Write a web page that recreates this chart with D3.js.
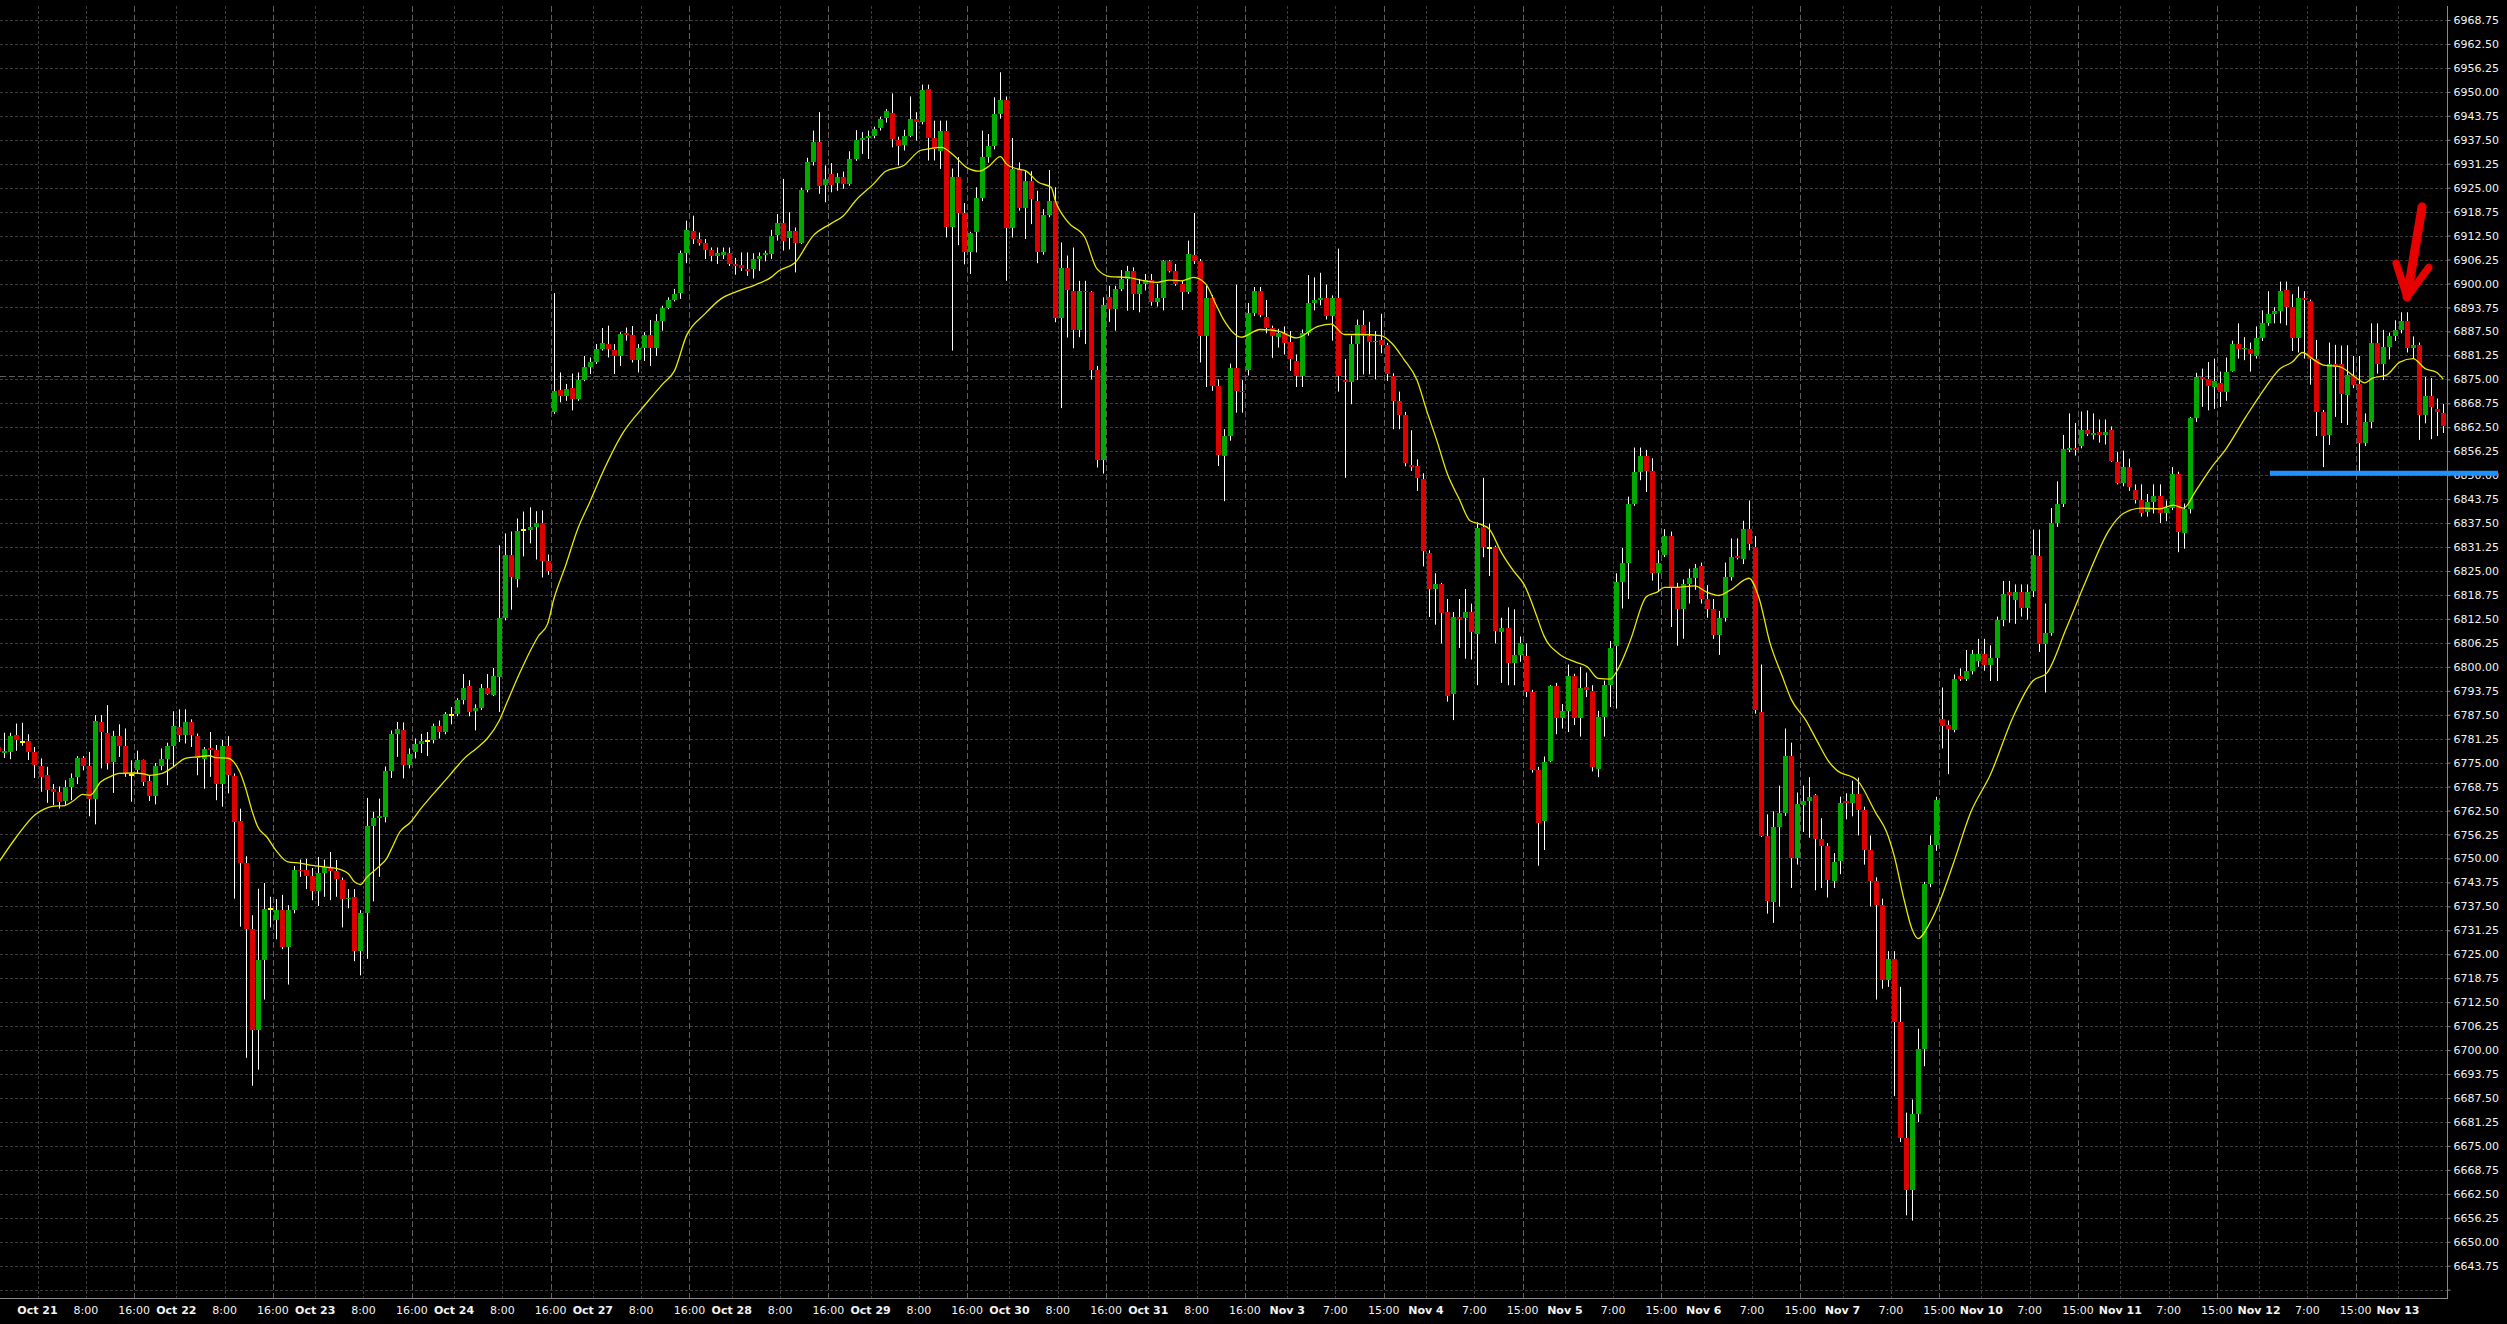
<!DOCTYPE html>
<html><head><meta charset="utf-8">
<script src="https://cdn.jsdelivr.net/npm/d3@7/dist/d3.min.js"></script>
<style>html,body{margin:0;padding:0;background:#000;overflow:hidden}svg{display:block}</style>
</head><body>
<svg id="c" width="2507" height="1324"></svg>
<script>
// ---------- DATA (hourly candles) ----------
const openP = [
6779.2,6777.6,6777.8,6782.1,6780.4,6780.6,6777.8,6774.1,6771.7,6768.0,
6767.4,6765.0,6768.7,6771.3,6776.1,6774.1,6765.4,6785.6,6782.8,6775.2,
6781.9,6779.3,6771.9,6773.2,6775.6,6770.2,6766.2,6774.2,6775.9,6779.4,
6784.3,6782.3,6785.7,6781.9,6775.9,6778.9,6778.3,6769.4,6779.3,6771.5,
6759.7,6748.9,6731.5,6705.3,6723.4,6736.8,6734.0,6736.5,6726.8,6736.5,
6747.0,6747.0,6745.4,6741.5,6746.2,6747.8,6746.8,6744.3,6739.3,6740.0,
6725.8,6735.8,6758.4,6760.6,6760.8,6772.8,6782.4,6783.6,6774.3,6777.9,
6779.8,6780.6,6781.0,6784.5,6783.1,6787.4,6787.6,6791.3,6794.9,6788.4,
6789.2,6794.4,6792.7,6797.4,6812.8,6829.2,6823.0,6835.7,6835.7,6836.6,
6837.6,6827.5,6866.5,6872.2,6870.7,6872.7,6869.8,6874.8,6878.3,6879.4,
6882.9,6884.2,6882.7,6881.0,6887.1,6886.5,6880.1,6883.1,6886.5,6883.1,
6890.3,6893.5,6895.7,6897.4,6907.9,6913.8,6911.6,6910.7,6908.8,6907.3,
6907.5,6908.0,6905.1,6904.8,6903.7,6903.7,6906.5,6907.5,6907.7,6912.7,
6915.8,6911.9,6913.8,6910.7,6924.4,6931.8,6937.0,6925.7,6928.6,6926.1,
6927.9,6926.0,6932.5,6937.4,6938.0,6938.5,6940.5,6943.1,6944.5,6937.5,
6936.1,6938.6,6942.9,6942.1,6950.8,6938.0,6934.7,6939.9,6914.8,6927.9,
6918.3,6908.1,6913.4,6922.2,6932.9,6936.0,6944.1,6947.9,6914.4,6929.9,
6919.6,6926.8,6921.6,6908.3,6917.9,6921.6,6890.9,6904.0,6898.1,6887.8,
6898.1,6897.8,6877.5,6853.9,6896.4,6893.3,6898.6,6901.2,6903.3,6897.3,
6899.9,6900.9,6895.3,6896.1,6905.9,6903.3,6899.9,6897.9,6907.5,6905.8,
6886.2,6896.2,6873.3,6855.0,6860.2,6877.9,6872.0,6877.5,6892.4,6898.1,
6891.2,6888.4,6886.0,6887.0,6884.8,6879.9,6876.0,6887.2,6894.9,6895.8,
6896.3,6891.5,6896.3,6874.8,6874.2,6884.3,6889.2,6886.3,6884.8,6885.2,
6884.0,6876.0,6869.3,6865.7,6852.6,6852.3,6849.0,6829.6,6820.3,6821.6,
6814.3,6793.0,6813.1,6812.8,6814.3,6808.6,6836.5,6831.0,6831.3,6809.2,
6810.0,6800.9,6803.1,6802.7,6793.4,6773.1,6759.7,6775.5,6794.9,6786.7,
6788.5,6797.6,6786.7,6794.8,6793.6,6773.3,6787.0,6795.2,6805.5,6822.0,
6827.0,6842.6,6850.7,6855.1,6851.1,6824.4,6829.2,6834.1,6820.7,6815.0,
6821.7,6823.1,6826.2,6817.7,6815.0,6808.2,6812.8,6823.5,6828.8,6828.0,
6835.9,6831.3,6788.2,6755.9,6738.6,6758.1,6761.9,6776.7,6750.2,6764.0,
6765.1,6766.6,6755.1,6753.2,6744.1,6749.3,6764.9,6764.4,6766.9,6762.7,
6752.3,6744.2,6737.9,6718.2,6723.7,6707.3,6677.0,6663.6,6683.4,6700.2,
6743.4,6753.5,6786.3,6784.9,6783.4,6797.7,6796.8,6798.9,6801.4,6803.4,
6800.5,6802.2,6812.3,6819.5,6817.3,6819.5,6815.3,6819.8,6828.8,6805.9,
6808.9,6837.5,6842.6,6856.5,6857.2,6857.7,6861.9,6860.5,6861.3,6860.5,
6861.9,6853.5,6847.9,6852.1,6846.2,6843.4,6840.4,6843.1,6844.6,6840.0,
6841.4,6850.4,6835.0,6841.2,6864.9,6875.7,6875.0,6873.1,6874.0,6871.6,
6877.3,6884.1,6882.9,6882.9,6881.2,6885.7,6889.6,6892.1,6892.9,6898.3,
6893.8,6885.7,6896.3,6895.5,6880.4,6866.4,6860.5,6879.0,6879.0,6870.8,
6876.2,6873.9,6858.5,6863.9,6884.6,6879.0,6883.4,6886.2,6887.9,6890.1,
6883.2,6884.0,6865.7,6870.6,6867.2,6866.1];
const highP = [
6781.0,6782.8,6782.8,6785.2,6785.4,6782.4,6779.1,6776.1,6773.9,6769.4,
6768.8,6770.4,6772.2,6776.7,6776.7,6777.8,6787.4,6787.4,6790.0,6783.3,
6785.0,6783.9,6775.6,6778.1,6775.8,6771.5,6774.9,6778.7,6780.2,6788.4,
6788.9,6788.9,6786.3,6782.6,6779.1,6783.0,6779.6,6780.9,6781.9,6772.2,
6763.0,6750.6,6735.2,6742.1,6743.6,6740.0,6739.4,6740.5,6737.8,6748.0,
6749.7,6749.9,6747.5,6750.4,6749.7,6751.7,6749.6,6745.0,6742.0,6742.0,
6736.5,6765.8,6762.2,6765.6,6774.0,6783.4,6785.6,6785.5,6778.7,6781.3,
6782.5,6783.0,6785.2,6786.0,6788.2,6789.5,6791.8,6798.1,6796.5,6790.2,
6795.5,6798.1,6799.7,6831.7,6834.8,6835.3,6838.7,6840.5,6841.6,6840.6,
6840.8,6829.3,6897.5,6876.8,6873.8,6876.5,6876.8,6881.1,6880.7,6884.2,
6888.4,6889.0,6884.2,6887.3,6888.5,6888.9,6884.2,6887.3,6890.5,6892.0,
6894.2,6896.4,6898.6,6908.6,6916.4,6917.7,6913.3,6911.6,6909.4,6909.4,
6909.4,6909.4,6906.7,6908.1,6908.1,6907.9,6908.1,6908.6,6914.0,6918.1,
6927.3,6918.6,6914.6,6925.0,6932.8,6939.9,6944.7,6930.8,6931.4,6928.8,
6929.2,6934.5,6940.0,6939.5,6939.9,6940.9,6943.5,6945.5,6949.6,6938.3,
6940.1,6948.8,6944.7,6951.9,6951.9,6942.5,6942.5,6942.5,6930.0,6933.0,
6921.0,6913.5,6925.1,6939.9,6939.0,6948.6,6955.1,6948.8,6938.0,6931.6,
6929.3,6929.3,6924.2,6919.4,6929.6,6925.1,6910.7,6907.3,6909.4,6900.7,
6900.7,6898.0,6878.5,6896.4,6899.4,6899.4,6903.5,6904.6,6904.2,6901.2,
6902.5,6902.5,6899.9,6906.1,6906.1,6905.1,6900.7,6911.2,6918.4,6906.4,
6899.4,6897.0,6875.0,6862.0,6879.1,6899.7,6874.8,6894.9,6899.1,6899.1,
6895.7,6889.0,6888.2,6888.8,6887.6,6881.5,6888.0,6902.2,6901.6,6902.8,
6899.7,6896.9,6909.1,6880.3,6886.4,6890.6,6893.0,6890.0,6887.6,6892.1,
6884.5,6876.6,6871.8,6866.5,6861.7,6854.1,6850.5,6830.4,6824.4,6821.9,
6817.7,6814.3,6817.7,6820.3,6816.5,6837.7,6849.3,6837.4,6831.6,6812.8,
6815.5,6815.0,6807.9,6806.1,6794.0,6773.9,6776.6,6795.2,6795.8,6790.3,
6800.6,6798.2,6800.0,6798.5,6795.2,6788.5,6796.4,6806.7,6824.4,6831.0,
6844.4,6857.2,6857.2,6856.6,6854.4,6830.4,6835.9,6835.3,6821.9,6822.8,
6825.6,6826.8,6827.2,6821.3,6817.7,6814.6,6827.2,6833.5,6833.5,6838.1,
6843.4,6834.1,6800.6,6761.5,6762.3,6769.0,6783.9,6780.2,6767.2,6769.0,
6771.2,6766.8,6760.5,6754.0,6751.4,6766.1,6767.0,6770.3,6771.1,6763.5,
6756.0,6745.1,6739.5,6725.8,6725.8,6716.5,6683.7,6687.1,6705.6,6743.9,
6756.0,6766.1,6794.6,6786.0,6798.0,6799.6,6804.4,6804.4,6807.3,6807.3,
6805.6,6813.1,6822.4,6822.4,6821.5,6821.5,6821.5,6835.8,6835.8,6816.5,
6841.4,6848.4,6860.5,6866.1,6863.6,6866.6,6866.9,6866.1,6864.5,6864.5,
6862.7,6856.0,6856.4,6854.3,6847.6,6847.6,6845.1,6847.6,6847.6,6843.4,
6852.1,6850.9,6842.6,6865.2,6876.7,6877.8,6879.5,6880.4,6877.0,6880.7,
6885.1,6889.6,6886.0,6884.6,6888.8,6893.0,6898.0,6893.8,6900.5,6900.5,
6897.2,6899.2,6898.0,6895.8,6885.3,6867.0,6884.6,6884.0,6883.8,6883.9,
6881.1,6881.1,6866.1,6889.6,6889.6,6887.9,6887.2,6890.4,6892.5,6892.5,
6886.2,6884.6,6875.6,6875.3,6870.0,6868.6];
const lowP = [
6776.0,6776.2,6775.9,6778.1,6779.4,6775.7,6771.0,6767.4,6764.5,6763.9,
6763.0,6764.0,6765.2,6769.4,6773.0,6761.0,6758.9,6773.5,6773.2,6767.1,
6776.5,6771.3,6764.8,6772.0,6768.9,6765.0,6764.1,6773.0,6769.1,6773.9,
6780.4,6780.0,6779.1,6771.7,6768.2,6771.3,6765.2,6763.5,6767.0,6739.5,
6732.2,6698.0,6690.7,6694.9,6713.2,6732.0,6728.9,6726.3,6717.1,6735.7,
6745.2,6742.0,6739.1,6737.6,6740.0,6739.1,6740.0,6732.0,6737.0,6723.2,
6719.5,6723.8,6738.8,6745.2,6759.4,6771.0,6776.5,6770.9,6773.5,6776.1,
6777.5,6776.7,6780.0,6781.3,6782.4,6785.0,6787.1,6790.2,6787.1,6783.4,
6788.7,6792.7,6792.4,6788.2,6812.1,6814.9,6820.7,6828.8,6832.2,6828.0,
6823.3,6824.0,6866.0,6869.0,6869.4,6866.9,6869.4,6874.5,6876.4,6879.0,
6882.5,6880.7,6876.4,6878.5,6885.1,6879.4,6876.8,6879.8,6878.5,6881.1,
6887.7,6893.3,6895.3,6896.0,6905.3,6910.3,6909.9,6906.4,6905.8,6905.1,
6906.4,6904.6,6902.3,6903.3,6902.0,6901.3,6903.3,6905.8,6906.4,6911.2,
6908.6,6908.9,6902.9,6910.3,6923.8,6930.8,6923.4,6921.2,6923.8,6924.2,
6924.7,6925.5,6932.0,6933.8,6932.5,6937.9,6939.9,6942.0,6935.5,6930.8,
6934.7,6938.2,6937.3,6941.5,6932.1,6932.1,6929.9,6912.0,6882.5,6910.0,
6905.0,6902.5,6908.1,6921.5,6931.5,6935.0,6943.0,6900.7,6912.0,6919.0,
6911.6,6915.5,6905.3,6907.5,6917.3,6889.9,6867.5,6885.9,6883.1,6886.0,
6884.2,6875.0,6852.0,6850.4,6890.0,6887.7,6898.0,6892.9,6893.1,6892.5,
6898.2,6894.2,6894.0,6893.0,6902.9,6899.4,6893.1,6897.3,6905.1,6879.4,
6873.0,6872.0,6852.4,6843.2,6859.0,6866.3,6866.3,6876.0,6891.5,6891.2,
6887.0,6880.6,6883.3,6881.5,6877.2,6873.0,6873.0,6886.4,6893.0,6894.3,
6890.6,6885.1,6871.8,6849.3,6868.5,6874.8,6876.3,6876.3,6875.0,6881.8,
6874.6,6862.0,6862.0,6852.3,6851.1,6845.9,6826.2,6813.0,6811.0,6806.1,
6790.9,6786.1,6804.9,6802.1,6801.9,6795.2,6828.6,6823.7,6806.1,6795.8,
6795.2,6795.2,6801.3,6792.1,6772.4,6748.1,6752.2,6775.1,6782.4,6783.9,
6783.0,6784.8,6781.8,6792.1,6772.7,6771.2,6781.8,6789.5,6789.1,6815.2,
6817.7,6842.0,6848.7,6845.6,6822.5,6819.5,6828.6,6810.4,6805.5,6807.3,
6816.5,6820.1,6816.5,6812.8,6807.3,6803.1,6811.8,6822.5,6828.0,6826.8,
6830.4,6787.8,6755.6,6735.6,6733.2,6737.4,6761.1,6742.3,6748.4,6756.9,
6755.4,6741.7,6742.3,6739.8,6742.3,6745.9,6760.2,6761.0,6756.0,6748.4,
6737.5,6713.2,6716.0,6716.5,6688.0,6676.0,6656.9,6655.5,6681.2,6695.8,
6742.5,6752.0,6778.7,6772.0,6782.9,6796.3,6796.3,6798.0,6800.0,6799.0,
6796.3,6796.3,6810.6,6811.5,6811.2,6813.1,6812.3,6818.2,6803.9,6793.3,
6808.1,6836.5,6841.7,6856.0,6855.1,6857.0,6860.2,6859.3,6858.5,6858.0,
6853.5,6847.6,6847.1,6845.9,6842.6,6839.2,6839.2,6840.0,6837.5,6838.0,
6840.9,6829.9,6830.8,6840.0,6863.9,6867.8,6866.9,6867.3,6867.8,6869.4,
6877.0,6880.4,6880.0,6877.0,6880.4,6885.0,6889.0,6889.6,6889.6,6889.1,
6882.4,6882.0,6880.4,6873.6,6860.2,6852.1,6857.9,6865.2,6863.6,6863.1,
6872.7,6851.1,6857.6,6862.2,6876.5,6874.8,6880.2,6885.0,6887.0,6882.0,
6880.4,6859.2,6863.5,6859.4,6860.2,6861.0];
const closeP = [
6777.8,6778.1,6781.9,6781.0,6780.4,6777.8,6774.3,6771.3,6767.8,6767.4,
6764.8,6768.7,6771.1,6776.3,6774.1,6765.4,6785.8,6783.0,6775.0,6781.9,
6779.4,6772.3,6771.9,6775.6,6770.0,6766.2,6774.1,6775.9,6779.4,6784.5,
6782.2,6785.7,6782.3,6776.3,6778.5,6778.3,6769.4,6779.3,6771.7,6759.5,
6748.8,6731.5,6705.3,6723.4,6736.8,6736.8,6736.5,6726.8,6736.5,6747.0,
6746.6,6745.4,6741.5,6746.2,6747.8,6746.8,6744.7,6739.4,6739.7,6725.8,
6735.8,6758.4,6760.6,6761.0,6772.8,6782.4,6783.7,6774.3,6777.2,6779.8,
6780.6,6780.6,6784.5,6783.1,6787.6,6787.4,6791.3,6794.6,6788.2,6789.2,
6794.4,6792.9,6797.6,6812.8,6829.2,6823.3,6835.5,6835.7,6836.6,6837.6,
6827.5,6824.9,6872.0,6870.7,6872.4,6869.8,6874.8,6878.3,6879.4,6882.9,
6884.4,6882.9,6881.2,6886.8,6886.5,6880.1,6883.1,6886.5,6883.1,6890.3,
6893.5,6895.7,6897.3,6907.9,6914.0,6911.6,6910.7,6908.8,6907.3,6908.0,
6908.3,6905.1,6904.6,6904.0,6903.2,6906.5,6907.3,6907.9,6912.5,6915.8,
6911.0,6913.8,6910.7,6924.4,6931.8,6937.0,6925.5,6927.3,6925.8,6927.7,
6925.9,6932.5,6937.4,6938.0,6938.5,6940.3,6942.9,6944.9,6937.7,6936.0,
6938.6,6942.9,6942.1,6950.5,6938.0,6935.1,6939.9,6914.8,6927.9,6918.3,
6908.1,6913.1,6922.2,6932.9,6936.0,6944.1,6947.9,6914.4,6929.9,6919.6,
6926.8,6922.0,6908.3,6917.9,6921.4,6890.9,6904.0,6898.3,6887.8,6898.1,
6897.7,6877.5,6853.9,6894.4,6893.3,6898.6,6901.2,6903.3,6897.3,6899.9,
6900.9,6895.3,6896.1,6905.9,6903.3,6899.9,6897.9,6907.7,6905.8,6886.2,
6896.2,6873.3,6855.2,6860.2,6877.9,6872.0,6871.8,6892.4,6898.1,6891.8,
6888.4,6886.4,6887.0,6884.5,6880.3,6876.0,6887.2,6894.9,6895.8,6896.3,
6891.5,6896.3,6876.0,6874.2,6884.3,6889.2,6886.3,6884.8,6885.1,6884.0,
6876.3,6869.3,6865.7,6853.3,6852.1,6849.3,6830.1,6820.3,6821.6,6814.0,
6792.5,6813.1,6812.6,6814.3,6809.2,6836.1,6831.3,6831.0,6809.4,6810.1,
6800.9,6803.1,6806.1,6793.4,6773.1,6759.3,6775.1,6794.9,6786.7,6788.5,
6797.6,6786.7,6794.6,6794.0,6773.9,6787.0,6795.2,6804.9,6822.2,6827.0,
6842.6,6850.7,6855.1,6851.1,6824.4,6827.1,6834.1,6820.7,6815.2,6821.7,
6823.1,6825.9,6817.7,6815.0,6808.2,6812.8,6823.5,6828.6,6828.4,6835.9,
6832.0,6788.7,6755.9,6738.9,6758.1,6761.9,6776.7,6750.2,6764.2,6765.1,
6766.0,6755.1,6753.2,6744.3,6749.0,6764.4,6764.4,6766.9,6762.7,6752.3,
6744.2,6737.9,6718.2,6723.7,6707.3,6677.0,6663.6,6683.4,6700.2,6743.4,
6753.5,6765.2,6784.6,6783.7,6796.8,6796.8,6798.9,6803.4,6803.4,6800.5,
6802.2,6812.3,6819.0,6818.7,6819.5,6815.3,6819.6,6829.1,6805.9,6808.9,
6837.5,6842.6,6856.8,6857.2,6856.5,6861.9,6860.7,6861.0,6860.5,6861.3,
6853.8,6847.9,6852.1,6846.8,6843.4,6840.0,6843.1,6844.6,6840.0,6841.4,
6850.4,6835.3,6841.2,6864.9,6875.7,6875.0,6873.3,6874.5,6871.6,6877.0,
6884.1,6882.9,6883.2,6881.7,6885.7,6889.6,6892.1,6892.9,6898.0,6893.8,
6885.7,6896.3,6895.8,6880.4,6866.4,6860.2,6879.0,6878.3,6871.1,6876.2,
6873.6,6858.5,6863.9,6884.6,6879.0,6883.4,6886.2,6887.9,6890.1,6883.2,
6884.0,6865.7,6870.6,6867.8,6866.4,6862.7];

// moving average line (bar position, value)
const maBar = [0,3,6,7.5,9,11,12.4,14,15.2,17,18.5,20,22.4,24,25,27,29,31,33,35,36,38,39,40,41,42,43,44.5,46,48,50,52,54,56,58,59,60,61,63,64.3,65.4,66.5,68.2,70,72,74,76,77.2,79.2,81,83,84.3,86.3,88.2,89.5,91,92,94,96,98,100,103.5,107,110,112,114,117,119.7,122.5,125.3,128,129.2,132,135,138,140,142,145,147,150,152.7,154,156.2,158.3,160.4,162.5,164,166,167,168.8,170.2,172.3,174.4,175.1,177.2,180,182,184.2,187,190,192,194,196,198,200,201.8,203,205.9,209,212,215,218.6,220.8,223,225.7,229,230.8,232.8,235,236.6,238.3,240,242,243.8,245.7,247,249,251,252.8,254.8,256,258.6,261.2,263.2,265,267,268.3,270.3,273,274.8,276,278,281,283,285,287,290,291.6,293.5,295.5,297,299.4,301.3,303.3,304.4,308,311,312.8,314,315.7,317,318,320,321.5,323.8,326.7,330,333.8,337,339.3,342.5,345.8,349.7,352,355,358,360.3,362,364,366.5,369,372.3,375.5,378,380,381.7,383.3,385.2,387.8,390.4,392,393.3,395.6,397.8,400,402,404,405];
const maVal = [6748.8,6755.6,6761.3,6762.8,6763.6,6763.8,6765.0,6766.7,6766.5,6770.0,6771.3,6772.2,6772.3,6772.1,6771.7,6772.1,6773.9,6776.1,6776.5,6776.8,6776.3,6776.2,6775.2,6772.6,6768.2,6762.6,6758.2,6755.6,6752.1,6749.1,6748.8,6748.2,6747.8,6747.4,6746.0,6743.9,6743.2,6745.0,6747.8,6749.9,6753.4,6756.9,6759.3,6763.0,6766.7,6770.3,6774.0,6776.1,6778.7,6781.3,6786.0,6790.8,6798.1,6804.4,6808.1,6811.2,6817.5,6826.5,6836.0,6843.0,6850.3,6861.1,6868.1,6873.7,6877.2,6886.4,6892.0,6896.0,6898.0,6899.6,6901.6,6903.2,6905.5,6912.5,6915.7,6917.7,6921.6,6926.0,6929.3,6930.8,6934.7,6935.1,6935.5,6933.4,6930.3,6929.3,6930.5,6933.1,6931.2,6929.9,6929.4,6926.4,6925.1,6921.6,6916.0,6912.0,6903.8,6901.8,6901.6,6900.7,6900.3,6900.9,6900.7,6901.6,6899.9,6894.2,6890.5,6886.0,6888.0,6887.6,6885.8,6888.8,6889.4,6886.7,6886.7,6886.4,6884.5,6880.3,6874.8,6866.9,6859.0,6850.5,6843.8,6838.1,6837.1,6835.9,6829.8,6825.0,6821.3,6813.4,6808.2,6803.3,6801.3,6800.0,6797.0,6796.8,6799.4,6806.7,6818.3,6819.5,6820.7,6820.7,6821.1,6819.5,6818.6,6820.1,6823.1,6818.3,6806.1,6797.6,6791.5,6786.1,6780.6,6775.1,6773.2,6770.3,6761.9,6756.9,6751.0,6739.2,6731.6,6729.1,6733.3,6738.4,6748.4,6761.9,6771.9,6787.1,6796.3,6798.3,6809.8,6822.4,6835.8,6840.0,6841.4,6841.2,6842.2,6841.4,6845.9,6851.8,6856.8,6865.2,6872.8,6877.8,6879.5,6882.0,6880.4,6878.7,6878.3,6875.6,6874.1,6875.3,6876.1,6879.5,6880.4,6877.8,6876.7,6875.0];

// axis labels
const dayLabels = ["Oct 21","Oct 22","Oct 23","Oct 24","Oct 27","Oct 28","Oct 29","Oct 30","Oct 31","Nov 3","Nov 4","Nov 5","Nov 6","Nov 7","Nov 10","Nov 11","Nov 12","Nov 13"];
const hourLabels1 = ["8:00","8:00","8:00","8:00","8:00","8:00","8:00","8:00","8:00","7:00","7:00","7:00","7:00","7:00","7:00","7:00","7:00"];
const hourLabels2 = ["16:00","16:00","16:00","16:00","16:00","16:00","16:00","16:00","16:00","15:00","15:00","15:00","15:00","15:00","15:00","15:00","15:00"];
const priceMin = 6643.75, priceMax = 6968.75, priceStep = 6.25;
const hLinePrice = 6875.8;          // dashed horizontal line
const supportPrice = 6850.5;        // blue line
const supportStartBar = 376.3;
const arrowPts = {tail:[401.5,6920.0], tip:[399.0,6896.5], left:[397.2,6905.3], right:[402.6,6904.2]};

// ---------- LAYOUT ----------
const plotR = 2448, plotB = 1299, plotT = 6;
const barsPerDay = 23, dayLabelOffset = 6.5;
const svg = d3.select("#c");
const x = d3.scaleLinear().domain([0, 405]).range([-1.74, 2443.24]);
const y = d3.scaleLinear().domain([priceMin, priceMax]).range([1265.7, 20]);
const font = "'DejaVu Sans', Verdana, sans-serif";

svg.append("rect").attr("width", 2507).attr("height", 1324).attr("fill", "#000");
svg.append("defs").append("clipPath").attr("id", "plot")
  .append("rect").attr("x", 0).attr("y", 0).attr("width", plotR).attr("height", plotB);

const g = svg.append("g").attr("clip-path", "url(#plot)");

// horizontal grid
const gridLevels = d3.range(priceMin - priceStep, priceMax + 0.01, priceStep);
g.selectAll("line.hg").data(gridLevels).join("line")
  .attr("x1", 0).attr("x2", plotR)
  .attr("y1", d => Math.round(y(d)) + 0.5).attr("y2", d => Math.round(y(d)) + 0.5)
  .attr("stroke", "#3c3c3c").attr("stroke-width", 1).attr("stroke-dasharray", "3,2");

// vertical grid
const vTicks = [];
for (let k = 0; k < dayLabels.length; k++) {
  [0, 8, 16].forEach((o, j) => {
    const b = dayLabelOffset + barsPerDay * k + o;
    if (x(b) < plotR - 2) vTicks.push({b, dashed: j === 2});
  });
}
g.selectAll("line.vg").data(vTicks).join("line")
  .attr("x1", d => Math.round(x(d.b)) + 0.5).attr("x2", d => Math.round(x(d.b)) + 0.5)
  .attr("y1", plotT).attr("y2", plotB)
  .attr("stroke", d => d.dashed ? "#5e5e5e" : "#3c3c3c")
  .attr("stroke-dasharray", d => d.dashed ? "6,3" : "3,2");

// dashed horizontal line
g.append("line").attr("x1", 0).attr("x2", plotR)
  .attr("y1", Math.round(y(hLinePrice)) + 0.5).attr("y2", Math.round(y(hLinePrice)) + 0.5)
  .attr("stroke", "#5e5e5e").attr("stroke-dasharray", "6,3");

// candles
const candles = openP.map((o, i) => ({i, o, h: highP[i], l: lowP[i], c: closeP[i]}));
const cg = g.append("g");
cg.selectAll("line.w").data(candles).join("line")
  .attr("x1", d => Math.round(x(d.i)) + 0.5).attr("x2", d => Math.round(x(d.i)) + 0.5)
  .attr("y1", d => y(Math.max(d.h, d.o, d.c))).attr("y2", d => y(Math.min(d.l, d.o, d.c)))
  .attr("stroke", "#ffffff").attr("stroke-width", 1);
cg.selectAll("rect.b").data(candles).join("rect")
  .attr("x", d => Math.round(x(d.i)) - 2)
  .attr("width", 5)
  .attr("y", d => {
    if (d.o === d.c) return Math.round(y(d.o)) - 1;
    return Math.round(y(Math.max(d.o, d.c)));
  })
  .attr("height", d => {
    if (d.o === d.c) return 2;
    return Math.max(1, Math.round(y(Math.min(d.o, d.c))) - Math.round(y(Math.max(d.o, d.c))));
  })
  .attr("fill", d => d.o === d.c ? "#ffff00" : (d.c > d.o ? "#00a800" : "#dc0000"));

// moving average
const maPts = maBar.map((b, k) => [b, maVal[k]]).filter(p => p[1] !== undefined);
g.append("path").datum(maPts)
  .attr("d", d3.line().x(p => x(p[0])).y(p => y(p[1])).curve(d3.curveMonotoneX))
  .attr("fill", "none").attr("stroke", "#e8e800").attr("stroke-width", 1.3);

// frame
svg.append("line").attr("x1", plotR - 0.5).attr("x2", plotR - 0.5).attr("y1", plotT).attr("y2", plotB)
  .attr("stroke", "#8a8a8a");
svg.append("line").attr("x1", 0).attr("x2", plotR).attr("y1", plotB - 0.5).attr("y2", plotB - 0.5)
  .attr("stroke", "#8a8a8a");

// price axis
const priceTicks = d3.range(priceMin, priceMax + 0.01, priceStep);
const axis = d3.axisRight(y).tickValues(priceTicks.concat([priceMin - priceStep]))
  .tickSize(3).tickPadding(3).tickFormat(d => d >= priceMin ? d.toFixed(2) : "");
const ag = svg.append("g").attr("transform", `translate(${plotR - 0.5},0)`).call(axis);
ag.select(".domain").remove();
ag.selectAll(".tick line").attr("stroke", "#8a8a8a");
ag.selectAll(".tick text").attr("fill", "#f2f2f2").style("font-family", font).style("font-size", "11px");

// time axis labels
const tl = [];
for (let k = 0; k < dayLabels.length; k++) {
  tl.push({b: dayLabelOffset + barsPerDay * k, t: dayLabels[k], bold: true});
  if (k < hourLabels1.length) {
    tl.push({b: dayLabelOffset + barsPerDay * k + 8, t: hourLabels1[k], bold: false});
    tl.push({b: dayLabelOffset + barsPerDay * k + 16, t: hourLabels2[k], bold: false});
  }
}
svg.selectAll("text.tl").data(tl.filter(d => x(d.b) < plotR)).join("text")
  .attr("x", d => x(d.b)).attr("y", 1314).attr("text-anchor", "middle")
  .attr("fill", "#f2f2f2").style("font-family", font).style("font-size", "11px")
  .style("font-weight", d => d.bold ? "bold" : "normal")
  .text(d => d.t);

// blue support line (drawn over the axis label)
svg.append("line").attr("x1", x(supportStartBar)).attr("x2", 2498)
  .attr("y1", y(supportPrice)).attr("y2", y(supportPrice))
  .attr("stroke", "#1e90ff").attr("stroke-width", 5);

// red arrow
const P = p => [x(p[0]), y(p[1])];
const ap = svg.append("g").attr("fill", "none").attr("stroke", "#e60000")
  .attr("stroke-linecap", "round").attr("stroke-linejoin", "round");
ap.append("path").attr("d", d3.line()([P(arrowPts.tail), P(arrowPts.tip)])).attr("stroke-width", 9);
ap.append("path").attr("d", d3.line()([P(arrowPts.left), P(arrowPts.tip), P(arrowPts.right)])).attr("stroke-width", 7.5);
</script>
</body></html>
